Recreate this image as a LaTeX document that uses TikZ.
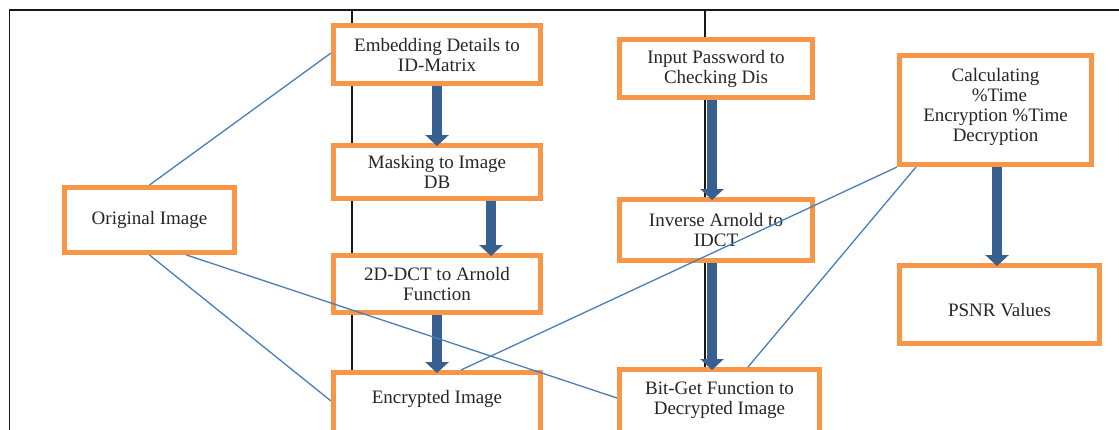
\documentclass[tikz,border=0pt]{standalone}
\usepackage{fontspec}
\setmainfont{Liberation Serif}
\usetikzlibrary{arrows.meta,calc}
\definecolor{boxorange}{HTML}{F79646}
\definecolor{flowblue}{HTML}{375F8F}
\definecolor{linkblue}{HTML}{4A7EBB}
\tikzset{
  box/.style={draw=boxorange, line width=5pt, fill=white, align=center, inner sep=0pt,
    font=\fontsize{19}{20}\selectfont, text=black!85},
  txt/.style={align=center, inner sep=0pt, font=\fontsize{19}{20}\selectfont, text=black!85},
  flow/.style={draw=flowblue, line width=10pt, -{Triangle[length=11pt,width=23pt]}},
  link/.style={draw=linkblue, line width=1.3pt},
  frame/.style={draw=black!90, line width=1.6pt}
}
\begin{document}
\begin{tikzpicture}[x=1pt,y=-1pt]
\useasboundingbox (0,0) rectangle (1119,429);
\clip (0,0) rectangle (1119,429);
\fill[white] (0,0) rectangle (1119,429);
% frame lines
\coordinate (ftl) at (9.5,10);
\coordinate (ftr) at (1125,10);
\coordinate (fbl) at (9.5,440);
\coordinate (v1t) at (352,10);
\coordinate (v1b) at (352,400);
\coordinate (v2t) at (705,10);
\coordinate (v2b) at (705,400);
\draw[frame] (fbl) -- (ftl) -- (ftr);
\draw[frame] (v1t) -- (v1b);
\draw[frame] (v2t) -- (v2b);
% boxes
\node[box, minimum width=207pt, minimum height=58pt] (emb) at (437,54.5) {Embedding Details to\\ID-Matrix};
\node[box, minimum width=207pt, minimum height=53pt] (mask) at (437,172) {Masking to Image\\DB};
\node[box, minimum width=207pt, minimum height=57pt] (dct) at (437,284) {2D-DCT to Arnold\\Function};
\node[box, minimum width=207pt, minimum height=71pt] (enc) at (437,408) {};
\node[txt] (enct) at (437,399) {Encrypted Image};
\node[box, minimum width=170pt, minimum height=65pt] (orig) at (149.5,220) {Original Image};
\node[box, minimum width=193pt, minimum height=58pt] (inp) at (716,68.5) {Input Password to\\Checking Dis};
\node[box, minimum width=193pt, minimum height=61pt] (inv) at (716,230) {Inverse Arnold to\\IDCT};
\node[box, minimum width=200pt, minimum height=73pt] (bit) at (719.5,406) {};
\node[txt] (bitt) at (719.5,400.5) {Bit-Get Function to\\Decrypted Image};
\node[box, minimum width=192pt, minimum height=109pt] (calc) at (995.5,110) {};
\node[txt] (calct) at (995.5,106.5) {Calculating\\\hspace{8pt}\%Time\\Encryption \%Time\\Decryption};
\node[box, minimum width=200pt, minimum height=78pt] (psnr) at (999.5,304.5) {};
\node[txt] (psnrt) at (999.5,310.5) {PSNR Values};
% thick flow arrows
\draw[flow] (emb.south) -- ($(mask.north)+(0,3)$);
\draw[flow] ($(mask.south)+(54,0)$) -- ($(dct.north)+(54,3)$);
\draw[flow] (dct.south) -- ($(enc.north)+(0,3)$);
\draw[flow] ($(inp.south)+(-4,0)$) -- ($(inv.north)+(-4,3)$);
\draw[flow] ($(inv.south)+(-4,0)$) -- ($(bit.north)+(-7.5,3)$);
\draw[flow] ($(calc.south)+(1.5,0)$) -- ($(psnr.north)+(-2.5,3)$);
% thin links
\draw[link] (orig.north) -- ($(emb.north west)+(0,30)$);
\draw[link] (orig.south) -- ($(enc.north west)+(0,31)$);
\draw[link] ($(orig.south)+(37,0)$) -- ($(bit.north west)+(0,31)$);
\draw[link] (calc.south west) -- ($(enc.north)+(24,0)$);
\draw[link] ($(calc.south west)+(19,0)$) -- ($(bit.north)+(28.5,0)$);
\end{tikzpicture}
\end{document}
